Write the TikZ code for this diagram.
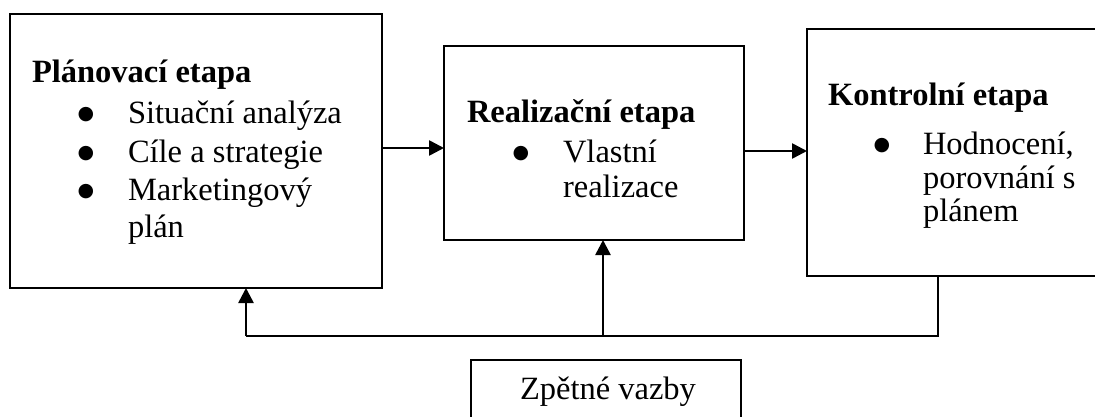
\documentclass[tikz,border=0pt]{standalone}
\usepackage{fontspec}
\setmainfont{Liberation Serif}
\newfontfamily\bulfont{DejaVu Sans}
\usetikzlibrary{arrows.meta}
\begin{document}
\begin{tikzpicture}[x=1pt,y=-1pt,
  box/.style={draw, line width=2.6pt, inner sep=0pt, outer sep=0pt},
  txt/.style={inner sep=0pt, outer sep=0pt, font=\fontsize{32.5}{38}\selectfont},
  bul/.style={inner sep=0pt, outer sep=0pt, font=\bulfont\fontsize{19}{19}\selectfont},
  ttl/.style={txt, font=\fontsize{32.5}{38}\selectfont\bfseries},
  arr/.style={line width=2.6pt, -{Triangle[length=15pt,width=15pt]}},
  thin/.style={line width=1.3pt}]
\useasboundingbox (0,0) rectangle (1095,417);
% boxes
\node[box, minimum width=372pt, minimum height=274pt] (box1) at (196,151) {};
\node[box, minimum width=300pt, minimum height=194pt] (box2) at (594,143) {};
\node[box, minimum width=293pt, minimum height=247pt] (box3) at (953.5,152.5) {};
\node[box, minimum width=270pt, minimum height=70pt] (box4) at (606,395) {};
% box 1 text
\node[ttl, anchor=base west] (t1) at (32,83) {Plánovací etapa};
\node[bul, anchor=base] (b11) at (86,120) {●};
\node[txt, anchor=base west] (l11) at (128,124) {Situační analýza};
\node[bul, anchor=base] (b12) at (86,158) {●};
\node[txt, anchor=base west] (l12) at (128,162) {Cíle a strategie};
\node[bul, anchor=base] (b13) at (86,196) {●};
\node[txt, anchor=base west] (l13) at (128,200) {Marketingový};
\node[txt, anchor=base west] (l14) at (128,237) {plán};
% box 2 text
\node[ttl, anchor=base west] (t2) at (467,123) {Realizační etapa};
\node[bul, anchor=base] (b21) at (521,158) {●};
\node[txt, anchor=base west] (l21) at (563,162) {Vlastní};
\node[txt, anchor=base west] (l22) at (563,197) {realizace};
% box 3 text
\node[ttl, anchor=base west] (t3) at (828,106) {Kontrolní etapa};
\node[bul, anchor=base] (b31) at (882,150) {●};
\node[txt, anchor=base west] (l31) at (923,154) {Hodnocení,};
\node[txt, anchor=base west] (l32) at (923,188) {porovnání s};
\node[txt, anchor=base west] (l33) at (923,221) {plánem};
% box 4 text
\node[txt, anchor=base west] (t4) at (520,399) {Zpětné vazby};
% connectors
\coordinate (fbR) at (938,336);
\coordinate (fbL) at (246,336);
\coordinate (fbM) at (603,336);
\draw[arr] (box1.east |- 0,148) -- (box2.west |- 0,148);
\draw[arr] (box2.east |- 0,151) -- (box3.west |- 0,151);
\draw[thin] (box3.south -| fbR) -- (fbR) -- (fbL);
\draw[arr] (fbL) -- (box1.south -| fbL);
\draw[arr] (fbM) -- (box2.south -| fbM);
\end{tikzpicture}
\end{document}
